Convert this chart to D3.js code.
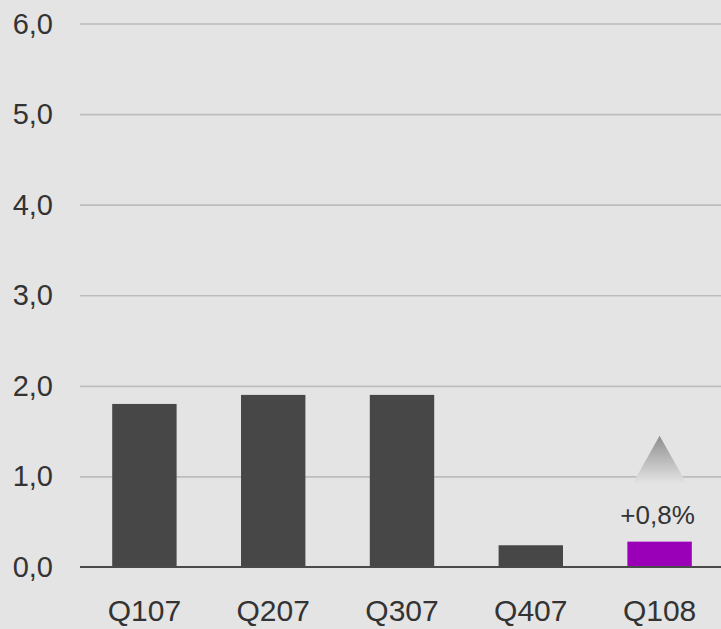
<!DOCTYPE html>
<html>
<head>
<meta charset="utf-8">
<script src="https://cdn.jsdelivr.net/npm/d3@7"></script>
<style>
  html, body { margin: 0; padding: 0; background: #e4e4e4; }
  svg { display: block; }
  text { font-family: "Liberation Sans", Arial, sans-serif; fill: #333; }
</style>
</head>
<body>
<svg id="chart" width="721" height="629"></svg>
<script>
// Quarterly values (in %)
const quarters = ["Q107", "Q207", "Q307", "Q407", "Q108"];
const values = [1.8, 1.9, 1.9, 0.24, 0.28];
const barColors = ["#474747", "#474747", "#474747", "#474747", "#9900b8"];
const yTicks = [0, 1, 2, 3, 4, 5, 6];
const yTickLabels = ["0,0", "1,0", "2,0", "3,0", "4,0", "5,0", "6,0"];
const changeLabel = "+0,8%";
const changeIndex = 4;

const svg = d3.select("#chart");
const W = 721, H = 629;

svg.append("rect").attr("width", W).attr("height", H).attr("fill", "#e4e4e4");

const x = d3.scaleBand().domain(quarters).range([80, 724]).paddingInner(0.5).paddingOuter(0.25);
const y = d3.scaleLinear().domain([0, 6]).range([567, 23.5]);

// Gridlines
const gridAxis = d3.axisLeft(y).tickValues(yTicks.slice(1)).tickSize(-(W - 80)).tickFormat("");
const grid = svg.append("g").attr("transform", "translate(80,0)").call(gridAxis);
grid.select(".domain").remove();
grid.selectAll("line").attr("stroke", "#bdbdbd").attr("stroke-width", 1.6);

// Y tick labels
svg.append("g").selectAll("text").data(yTicks).join("text")
  .attr("x", 53).attr("y", d => y(d) + 10)
  .attr("text-anchor", "end")
  .attr("font-size", 29)
  .text((d, i) => yTickLabels[i]);

// Bars
svg.append("g").selectAll("rect").data(values).join("rect")
  .attr("x", (d, i) => x(quarters[i]))
  .attr("width", x.bandwidth())
  .attr("y", d => y(d))
  .attr("height", d => y(0) - y(d))
  .attr("fill", (d, i) => barColors[i]);

// Baseline
svg.append("line")
  .attr("x1", 80).attr("x2", W)
  .attr("y1", y(0)).attr("y2", y(0))
  .attr("stroke", "#4a4a4a").attr("stroke-width", 2);

// X labels
svg.append("g").selectAll("text").data(quarters).join("text")
  .attr("x", d => x(d) + x.bandwidth() / 2)
  .attr("y", 621)
  .attr("text-anchor", "middle")
  .attr("font-size", 30)
  .text(d => d);

// Change indicator: triangle with fading gradient and label
const defs = svg.append("defs");
const grad = defs.append("linearGradient").attr("id", "triGrad")
  .attr("x1", 0).attr("y1", 0).attr("x2", 0).attr("y2", 1);
grad.append("stop").attr("offset", "0%").attr("stop-color", "#8e8e8e");
grad.append("stop").attr("offset", "100%").attr("stop-color", "#e4e4e4");

const cx = x(quarters[changeIndex]) + x.bandwidth() / 2;
const topY = y(values[changeIndex]);
svg.append("path")
  .attr("d", `M${cx},${topY - 106} L${cx + 27},${topY - 58} L${cx - 27},${topY - 58} Z`)
  .attr("fill", "url(#triGrad)");

svg.append("text")
  .attr("x", cx - 2).attr("y", topY - 18)
  .attr("text-anchor", "middle")
  .attr("font-size", 26)
  .text(changeLabel);
</script>
</body>
</html>
